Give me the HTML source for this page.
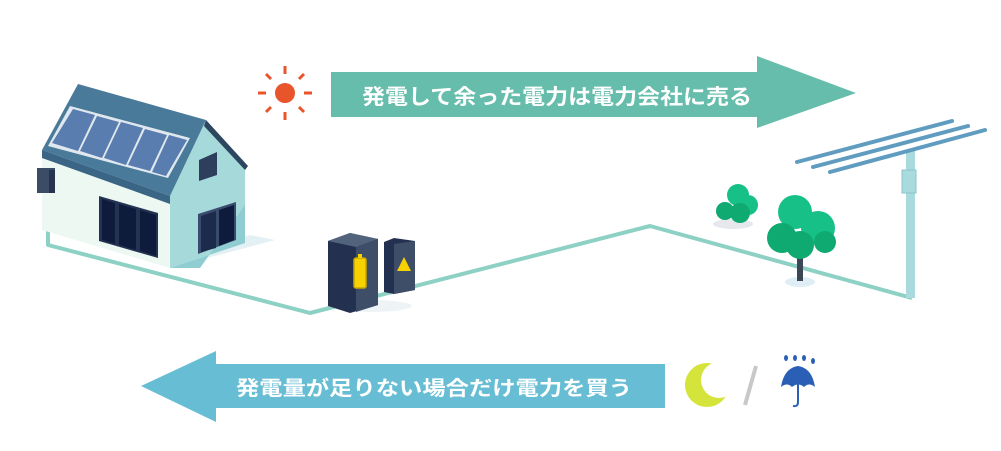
<!DOCTYPE html>
<html><head><meta charset="utf-8"><style>
html,body{margin:0;padding:0;background:#fff}
svg{display:block}
text{font-family:"Liberation Sans","Noto Sans CJK JP",sans-serif;font-weight:bold;fill:#fff}
</style></head><body>
<svg width="1001" height="451" viewBox="0 0 1001 451" xmlns="http://www.w3.org/2000/svg">
<defs><mask id="m"><rect x="0" y="0" width="1001" height="451" fill="#fff"/><circle cx="719" cy="380" r="18" fill="#000"/></mask></defs>
<polyline points="48,150 48,245 310,313 650,226 912,298" fill="none" stroke="#8dd0c4" stroke-width="4" stroke-linejoin="round"/>
<polygon points="170,268 275,240 250,235 170,255" fill="#e3f1f5"/>
<polygon points="42,150 170,196 170,268 42,230" fill="#eef8f2"/>
<polygon points="170,196 206,120 245,168 245,243 170,268" fill="#a6d9da"/>
<polygon points="200,268 245,205 245,243 170,268" fill="#8fcdd3"/>
<polygon points="78,84 206,120 170,196 42,150" fill="#4a7a9a"/>
<polygon points="42,150 170,196 170,204 42,158" fill="#3a6585"/>
<polygon points="206,120 248,166 245,170 204,126" fill="#2c4660"/>
<polygon points="70,106 190,138 168,178 48,146" fill="#dfe8ee"/>
<g fill="#5a7db0">
<polygon points="73,109 95,115 78,151 52,143"/>
<polygon points="97,116 119,122 102,158 80,151"/>
<polygon points="121,122 143,128 126,165 104,158"/>
<polygon points="145,129 167,135 150,171 128,165"/>
<polygon points="169,135 187,140 166,176 152,172"/>
</g>
<polygon points="99,196 158,213 158,258 99,241" fill="#243352"/>
<g fill="#0f1b3d"><polygon points="102,199 115,203 115,244 102,240"/><polygon points="119,204 136,209 136,250 119,245"/><polygon points="140,210 156,215 156,256 140,251"/></g>
<polygon points="199,160 217,152 217,175 199,181" fill="#2e3f5e"/>
<polygon points="198,214 236,202 236,240 198,254" fill="#3a4c6e"/>
<polygon points="201,216 216,211 216,248 201,252" fill="#1c2a4c"/><polygon points="219,210 234,205 234,240 219,246" fill="#0f1b3d"/>
<rect x="37" y="168" width="18" height="25" fill="#3a4c66"/><rect x="49" y="170" width="6" height="23" fill="#263352"/>
<ellipse cx="372" cy="306" rx="40" ry="6" fill="#eef4f6"/>
<polygon points="328,241 350,233 378,239 378,305 350,313 328,306" fill="#243050"/>
<polygon points="328,241 350,233 378,239 356,247" fill="#52647c"/>
<polygon points="356,247 378,239 378,305 356,312" fill="#3e4e68"/>
<rect x="354" y="258" width="12" height="30" rx="2" fill="#f7d100" stroke="#c9a800" stroke-width="1.5"/>
<rect x="358" y="254" width="4" height="4" fill="#f7d100"/>
<polygon points="384,242 394,238 415,241 415,290 394,294 384,292" fill="#243050"/>
<polygon points="394,244 415,241 415,290 394,294" fill="#3e4e68"/>
<polygon points="404,257 411,271 397,271" fill="#f7d100"/>
<ellipse cx="733" cy="224" rx="20" ry="5" fill="#e6e8ee"/>
<circle cx="738" cy="195" r="11" fill="#16c087"/><circle cx="748" cy="205" r="10" fill="#16c087"/><circle cx="725" cy="211" r="9" fill="#0faa72"/><circle cx="740" cy="213" r="10" fill="#0faa72"/>
<ellipse cx="800" cy="282" rx="15" ry="5" fill="#dfeef5"/>
<rect x="797" y="255" width="6" height="26" fill="#3b4657"/>
<circle cx="795" cy="212" r="17" fill="#16c087"/><circle cx="818" cy="228" r="17" fill="#16c087"/><circle cx="782" cy="238" r="15" fill="#0faa72"/><circle cx="800" cy="245" r="14" fill="#0faa72"/><circle cx="825" cy="242" r="11" fill="#0faa72"/>
<rect x="906" y="150" width="9" height="148" fill="#a8dade"/>
<rect x="902" y="170" width="14" height="23" fill="#a8dade" stroke="#8cc6cc"/>
<g stroke="#5f9cc0" stroke-width="4" stroke-linecap="round"><line x1="797" y1="162" x2="952" y2="121"/><line x1="813" y1="167" x2="968" y2="126"/><line x1="830" y1="172" x2="985" y2="130"/></g>
<polygon points="331,72 757,72 757,56 856,93 757,128 757,117 331,117" fill="#66bdab"/>
<text x="362" y="104" font-size="21" textLength="390" lengthAdjust="spacingAndGlyphs">発電して余った電力は電力会社に売る</text>
<circle cx="285" cy="93" r="10" fill="#e8552a"/>
<g stroke="#e8552a" stroke-width="3"><line x1="285" y1="66" x2="285" y2="74"/><line x1="285" y1="112" x2="285" y2="120"/><line x1="258" y1="93" x2="266" y2="93"/><line x1="304" y1="93" x2="312" y2="93"/><line x1="266" y1="74" x2="271" y2="79"/><line x1="299" y1="107" x2="304" y2="112"/><line x1="304" y1="74" x2="299" y2="79"/><line x1="266" y1="112" x2="271" y2="107"/></g>
<polygon points="665,364 216,364 216,351 141,386 216,422 216,408 665,408" fill="#67bdd3"/>
<text x="236" y="395" font-size="20" textLength="396" lengthAdjust="spacingAndGlyphs">発電量が足りない場合だけ電力を買う</text>
<circle cx="707" cy="385" r="22" fill="#d5e43a" mask="url(#m)"/>
<line x1="756" y1="366" x2="745" y2="405" stroke="#c8c8c8" stroke-width="4"/>
<g fill="#2a5fb5"><ellipse cx="786" cy="358" rx="2" ry="3"/><ellipse cx="795" cy="358" rx="2" ry="3"/><ellipse cx="804" cy="358" rx="2" ry="3"/><ellipse cx="813" cy="361" rx="2" ry="3"/>
<path d="M781,387 Q784,368 798,366 Q812,368 815,387 Q809,382 804,387 Q798,382 792,387 Q787,382 781,387Z"/></g>
<path d="M798,380 L798,402 Q798,407 793,406" fill="none" stroke="#2a5fb5" stroke-width="2"/>
</svg>
</body></html>
